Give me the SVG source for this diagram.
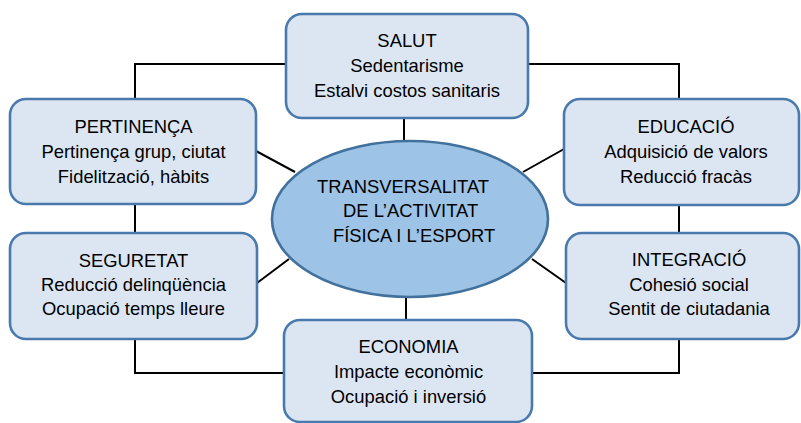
<svg xmlns="http://www.w3.org/2000/svg" width="801" height="423" viewBox="0 0 801 423">
<style>
.box{fill:#dce6f2;stroke:#4a7aad;stroke-width:2.6}
.ell{fill:#9dc3e6;stroke:#41719c;stroke-width:2.6}
.con{fill:none;stroke:#000;stroke-width:2}
text{font-family:"Liberation Sans",Arial,sans-serif;font-size:18.4px;fill:#000}
.c{text-anchor:middle}
</style>
<rect width="801" height="423" fill="#fff"/>
<g id="connectors">
<polyline class="con" points="286,64 135,64 135,99"/>
<polyline class="con" points="528,64 679,64 679,99"/>
<line class="con" x1="404" y1="118" x2="404" y2="141"/>
<line class="con" x1="256" y1="151" x2="295" y2="172"/>
<line class="con" x1="564" y1="149" x2="523" y2="172"/>
<line class="con" x1="135" y1="204" x2="135" y2="233"/>
<line class="con" x1="679" y1="205" x2="679" y2="233"/>
<line class="con" x1="257" y1="283" x2="289" y2="259"/>
<line class="con" x1="566" y1="283" x2="532" y2="259"/>
<line class="con" x1="406" y1="297" x2="406" y2="320"/>
<polyline class="con" points="135,339 135,373 284,373"/>
<polyline class="con" points="679,339 679,373 532,373"/>
</g>
<g id="salut">
<rect class="box" x="286" y="14" width="242" height="104" rx="16"/>
<text class="c" x="407" y="47">SALUT</text>
<text class="c" x="407" y="72">Sedentarisme</text>
<text class="c" x="407" y="97">Estalvi costos sanitaris</text>
</g>
<g id="pertinenca">
<rect class="box" x="10" y="99" width="246" height="105" rx="16"/>
<text class="c" x="133.5" y="133">PERTINENÇA</text>
<text class="c" x="133.5" y="158">Pertinença grup, ciutat</text>
<text class="c" x="133.5" y="183">Fidelització, hàbits</text>
</g>
<g id="educacio">
<rect class="box" x="564" y="99" width="235" height="106" rx="16"/>
<text class="c" x="686" y="133">EDUCACIÓ</text>
<text class="c" x="686" y="158">Adquisició de valors</text>
<text class="c" x="686" y="183">Reducció fracàs</text>
</g>
<g id="seguretat">
<rect class="box" x="10" y="233" width="247" height="106" rx="16"/>
<text class="c" x="133.5" y="267">SEGURETAT</text>
<text class="c" x="133.5" y="291">Reducció delinqüència</text>
<text class="c" x="133.5" y="315">Ocupació temps lleure</text>
</g>
<g id="integracio">
<rect class="box" x="566" y="233" width="233" height="106" rx="16"/>
<text class="c" x="689" y="266">INTEGRACIÓ</text>
<text class="c" x="689" y="291">Cohesió social</text>
<text class="c" x="689" y="315">Sentit de ciutadania</text>
</g>
<g id="economia">
<rect class="box" x="284" y="320" width="248" height="102" rx="16"/>
<text class="c" x="408.5" y="353">ECONOMIA</text>
<text class="c" x="408.5" y="378">Impacte econòmic</text>
<text class="c" x="408.5" y="403">Ocupació i inversió</text>
</g>
<g id="centre">
<ellipse class="ell" cx="410" cy="219" rx="138" ry="78"/>
<text x="317" y="193">TRANSVERSALITAT</text>
<text x="343" y="217">DE L’ACTIVITAT</text>
<text x="333" y="242">FÍSICA I L’ESPORT</text>
</g>
</svg>
